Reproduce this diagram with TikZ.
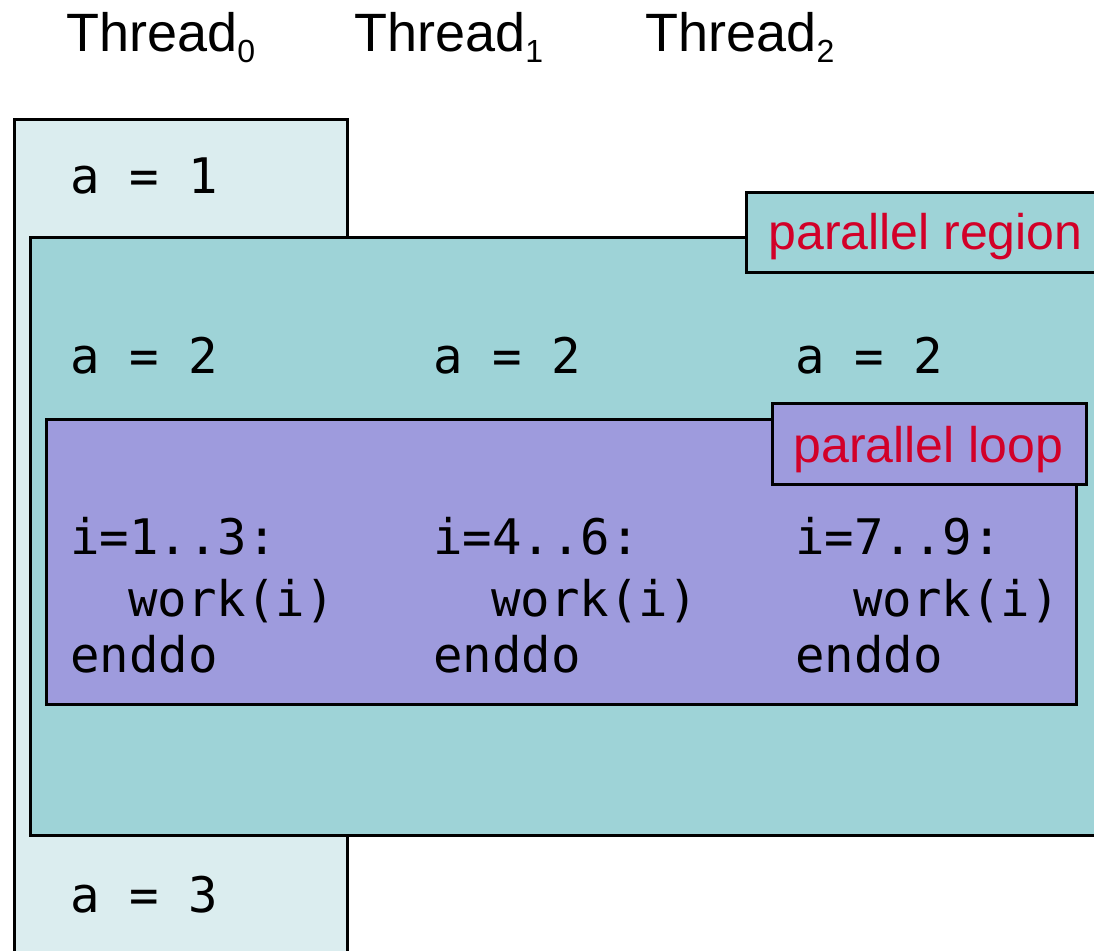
\documentclass[tikz,border=0pt]{standalone}
\usepackage{fontspec}
\setmainfont{Liberation Sans}
\setmonofont{DejaVu Sans Mono}
\definecolor{threadbg}{RGB}{219,237,239}
\definecolor{regionbg}{RGB}{158,211,215}
\definecolor{loopbg}{RGB}{158,155,221}
\definecolor{labelred}{RGB}{210,0,40}
\begin{document}
\begin{tikzpicture}[x=0.5pt,y=-0.5pt,
  box/.style={draw=black,line width=1.5pt},
  thr/.style={anchor=base west,inner sep=0pt,font=\fontsize{27}{31}\selectfont},
  lbl/.style={anchor=base west,inner sep=0pt,text=labelred,font=\fontsize{25}{30}\selectfont},
  code/.style={anchor=base west,inner sep=0pt,font=\ttfamily\fontsize{24.5}{29}\selectfont}]
\useasboundingbox (0,0) rectangle (1094,951);
\clip (0,0) rectangle (1094,951);
\newcommand{\subz}[1]{\raisebox{-5.5pt}{\fontsize{16}{18}\selectfont #1}}
% thread headers
\node[thr] (t0) at (66,52) {Thread\subz{0}};
\node[thr] (t1) at (354,52) {Thread\subz{1}};
\node[thr] (t2) at (645,52) {Thread\subz{2}};
% boxes
\draw[box,fill=threadbg] (14,120) rectangle (347,975);
\draw[box,fill=regionbg] (30,238) rectangle (1120,836);
\draw[box,fill=regionbg] (746,193) rectangle (1120,273);
\draw[box,fill=loopbg] (46,420) rectangle (1076,705);
\draw[box,fill=loopbg] (772,404) rectangle (1086,485);
% labels
\node[lbl] (preg) at (768,250) {parallel region};
\node[lbl] (ploop) at (793,463) {parallel loop};
% serial code
\node[code] (a1) at (70,194) {a = 1};
\node[code] (a3) at (70,913) {a = 3};
% region code
\node[code] (a20) at (70,374) {a = 2};
\node[code] (a21) at (433,374) {a = 2};
\node[code] (a22) at (795,374) {a = 2};
% loop code
\node[code] (i0) at (70,555) {i=1..3:};
\node[code] (w0) at (128,617) {work(i)};
\node[code] (e0) at (70,673) {enddo};
\node[code] (i1) at (433,555) {i=4..6:};
\node[code] (w1) at (491,617) {work(i)};
\node[code] (e1) at (433,673) {enddo};
\node[code] (i2) at (795,555) {i=7..9:};
\node[code] (w2) at (853,617) {work(i)};
\node[code] (e2) at (795,673) {enddo};
\end{tikzpicture}
\end{document}
